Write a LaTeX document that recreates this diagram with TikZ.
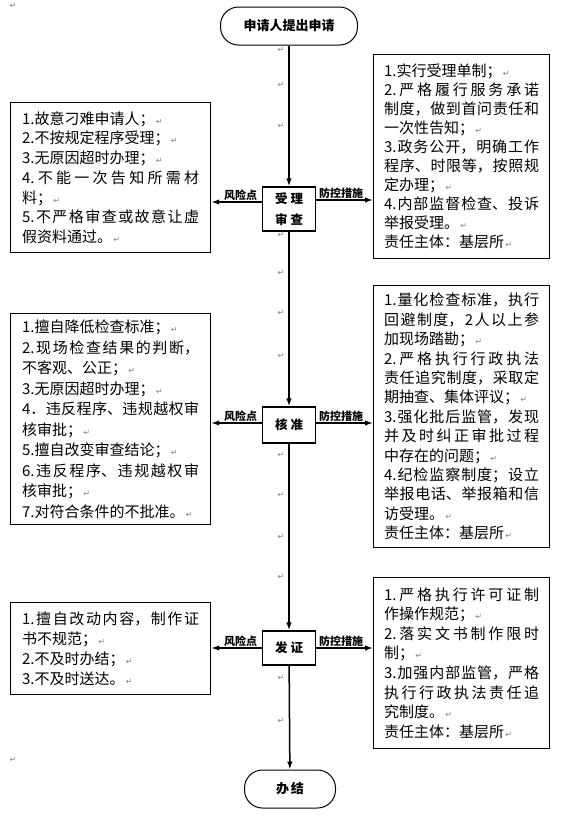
\documentclass[tikz,border=0pt]{standalone}
\usepackage{fontspec}
\setmainfont{Noto Sans CJK SC}
\newfontfamily\retfont{DejaVu Sans}
\usetikzlibrary{arrows.meta}
\XeTeXlinebreaklocale "zh"
\XeTeXlinebreakskip=0pt plus 1pt
\newcommand{\ret}{{\retfont\fontsize{8}{8}\selectfont\color{gray}\,↵}}

\begin{document}
\begin{tikzpicture}[x=1pt,y=-1pt,
    term/.style={draw,line width=1pt,rounded corners=18pt,minimum width=137pt,minimum height=38pt,font=\fontsize{13}{15}\selectfont\bfseries},
    stepbox/.style={draw,line width=1.2pt,minimum width=53pt,align=center,font=\fontsize{12.5}{21}\selectfont\bfseries},
    sidebox/.style={draw,line width=1.2pt,anchor=north west,align=justify,inner ysep=0pt},
    riskbox/.style={sidebox,text width=177pt,inner xsep=11.5pt},
    ctrlbox/.style={sidebox,text width=155pt,inner xsep=10.5pt},
    arr/.style={line width=1.5pt,-{Latex[length=8pt,width=5.5pt]}},
    tag/.style={above,inner sep=1pt,font=\fontsize{11}{11}\selectfont\bfseries},
    retmark/.style={inner sep=0pt,text=gray,font=\retfont\fontsize{8}{8}\selectfont}]
    \fill[white] (0,0) rectangle (565,828);
    \node[term] (apply) at (289,26) {申请人提出申请};
    \node[stepbox,minimum height=44pt] (shen) at (289,209) {受\hspace{3pt}理\\审\hspace{3pt}查};
    \node[stepbox,minimum height=36pt] (he) at (289,425) {核\hspace{3pt}准};
    \node[stepbox,minimum height=34pt] (fa) at (289,648) {发\hspace{3pt}证};
    \node[term,minimum width=91pt] (done) at (290,789) {办\hspace{2pt}结};

    \node[riskbox,minimum height=150pt,font=\fontsize{15}{19.7}\selectfont] (fx1) at (10,102) {1.故意刁难申请人；\ret\\2.不按规定程序受理；\ret\\3.无原因超时办理；\ret\\4.不能一次告知所需材\linebreak 料；\ret\\5.不严格审查或故意让虚\linebreak 假资料通过。\ret};
    \node[ctrlbox,minimum height=204pt,font=\fontsize{15}{19}\selectfont] (cs1) at (373,54) {1.实行受理单制；\ret\\2.严格履行服务承诺\linebreak 制度，做到首问责任和\linebreak 一次性告知；\ret\\3.政务公开，明确工作\linebreak 程序、时限等，按照规\linebreak 定办理；\ret\\4.内部监督检查、投诉\linebreak 举报受理。\ret\\责任主体：基层所\ret};
    \node[riskbox,minimum height=211pt,font=\fontsize{15}{20.5}\selectfont] (fx2) at (10,313) {1.擅自降低检查标准；\ret\\2.现场检查结果的判断，\linebreak 不客观、公正；\ret\\3.无原因超时办理；\ret\\4．违反程序、违规越权审\linebreak 核审批；\ret\\5.擅自改变审查结论；\ret\\6.违反程序、违规越权审\linebreak 核审批；\ret\\7.对符合条件的不批准。\ret};
    \node[ctrlbox,minimum height=262pt,font=\fontsize{15}{19.4}\selectfont] (cs2) at (373,285) {1.量化检查标准，执行\linebreak 回避制度，2人以上参\linebreak 加现场踏勘；\ret\\2.严格执行行政执法\linebreak 责任追究制度，采取定\linebreak 期抽查、集体评议；\ret\\3.强化批后监管，发现\linebreak 并及时纠正审批过程\linebreak 中存在的问题；\ret\\4.纪检监察制度；设立\linebreak 举报电话、举报箱和信\linebreak 访受理。\ret\\责任主体：基层所\ret};
    \node[riskbox,minimum height=92pt,font=\fontsize{15}{20}\selectfont] (fx3) at (10,602) {1.擅自改动内容，制作证\linebreak 书不规范；\ret\\2.不及时办结；\ret\\3.不及时送达。\ret};
    \node[ctrlbox,minimum height=171pt,font=\fontsize{15}{19.6}\selectfont] (cs3) at (373,577) {1.严格执行许可证制\linebreak 作操作规范；\ret\\2.落实文书制作限时\linebreak 制；\ret\\3.加强内部监管，严格\linebreak 执行行政执法责任追\linebreak 究制度。\ret\\责任主体：基层所\ret};

    \draw[arr] (apply) -- (shen); \draw[arr] (shen) -- (he); \draw[arr] (he) -- (fa); \draw[arr] (fa) -- (done);
    \coordinate (s1) at ([yshift=7pt]shen.west); \coordinate (s2) at ([yshift=9pt]shen.east);
    \draw[arr] (s1) -- node[tag,pos=.42] {风险点} (s1 -| fx1.east);
    \draw[arr] (s2) -- node[tag,pos=.44] {防控措施} (s2 -| cs1.west);
    \draw[arr] ([yshift=2pt]he.west) -- node[tag,pos=.42] {风险点} ([yshift=2pt]he.west -| fx2.east);
    \draw[arr] ([yshift=2pt]he.east) -- node[tag,pos=.44] {防控措施} ([yshift=2pt]he.east -| cs2.west);
    \draw[arr] (fa.west) -- node[tag,pos=.42] {风险点} (fa.west -| fx3.east);
    \draw[arr] (fa.east) -- node[tag,pos=.44] {防控措施} (fa.east -| cs3.west);

    \foreach \y [count=\i] in {50,85,126,235,273,313,356,455,495,537,577,678,721}
        \node[retmark] (m\i) at (281,\y) {↵};
    \node[retmark] (top) at (13,6) {↵};
    \node[retmark] (bot) at (13,760) {↵};
\end{tikzpicture}
\end{document}
